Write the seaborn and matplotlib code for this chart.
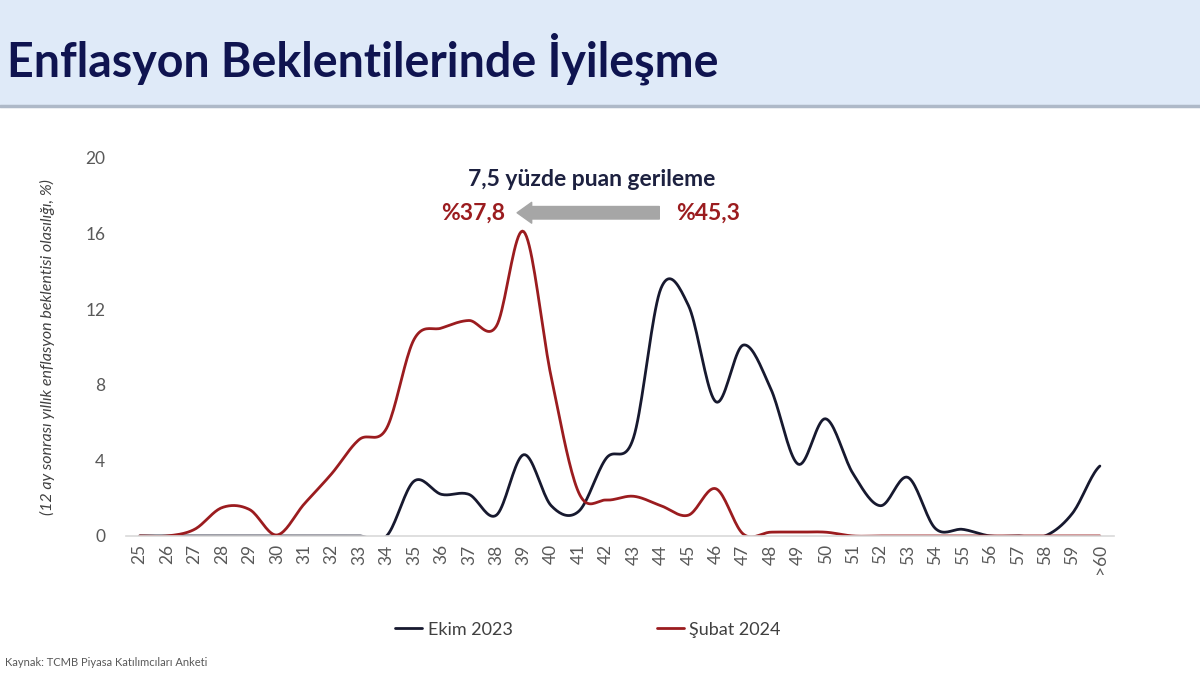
#!/usr/bin/env python3
import numpy as np
import pandas as pd
import matplotlib
matplotlib.use("Agg")
import matplotlib.pyplot as plt
from matplotlib.lines import Line2D
from matplotlib.patches import Rectangle
import seaborn as sns

# categories on the x axis (12 month ahead annual inflation expectation, %)
categories = [str(v) for v in range(25, 60)] + [">60"]

# probability (%)
ekim_2023 = [0, 0, 0, 0, 0, 0, 0, 0, 0, 0,
             2.9, 2.2, 2.2, 1.1, 4.3, 1.6, 1.3, 4.1, 5.2, 13.1,
             12.2, 7.1, 10.1, 7.8, 3.8, 6.2, 3.3, 1.6, 3.1, 0.4,
             0.35, 0, 0, 0, 1.2, 3.7]
subat_2024 = [0, 0, 0.35, 1.5, 1.4, 0.05, 1.7, 3.3, 5.1, 5.7,
              10.4, 11.0, 11.4, 11.1, 16.1, 8.4, 2.3, 1.9, 2.1, 1.6,
              1.1, 2.5, 0.1, 0.2, 0.2, 0.2, 0, 0, 0, 0,
              0, 0, 0, 0, 0, 0]

series_names = ["Ekim 2023", "Şubat 2024"]
colors = ["#17192f", "#9b1c1f"]


def smooth(y, steps=20):
    # catmull-rom path through the points, like excel's smoothed line
    y = np.asarray(y, dtype=float)
    p = np.concatenate([[y[0]], y, [y[-1]]])
    xs, ys = [], []
    for i in range(len(y) - 1):
        p0, p1, p2, p3 = p[i], p[i + 1], p[i + 2], p[i + 3]
        t = np.linspace(0, 1, steps, endpoint=False)
        v = 0.5 * (2 * p1 + (-p0 + p2) * t + (2 * p0 - 5 * p1 + 4 * p2 - p3) * t ** 2
                   + (-p0 + 3 * p1 - 3 * p2 + p3) * t ** 3)
        xs.extend(i + t)
        ys.extend(v)
    xs.append(len(y) - 1)
    ys.append(y[-1])
    return np.array(xs), np.array(ys)


def main():
    sns.set_theme(style="white")
    plt.rcParams["font.family"] = ["Lato", "DejaVu Sans"]

    fig = plt.figure(figsize=(12, 6.75), dpi=100)
    ax = fig.add_axes([0.105, 0.206, 0.823, 0.560])

    # header band
    fig.patches.append(Rectangle((0, 0.843), 1, 0.157, transform=fig.transFigure,
                                 facecolor="#dfeaf8", edgecolor="none", zorder=0))
    fig.lines.append(Line2D([0, 1], [0.843, 0.843], transform=fig.transFigure,
                            color="#aeb9c8", lw=2.5))
    fig.text(0.006, 0.913, "Enflasyon Beklentilerinde İyileşme", fontsize=33.5,
             fontweight="bold", color="#0f1450", va="center", ha="left")

    frames = []
    for name, vals in zip(series_names, [ekim_2023, subat_2024]):
        xs, ys = smooth(vals)
        frames.append(pd.DataFrame({"x": xs, "y": ys, "series": name}))
    df = pd.concat(frames, ignore_index=True)

    sns.lineplot(data=df, x="x", y="y", hue="series", palette=colors,
                 hue_order=series_names, sort=False, lw=2.0, ax=ax, legend=False)

    ax.set_xlim(-0.5, len(categories) - 0.5)
    ax.set_ylim(0, 20)
    ax.set_xticks(range(len(categories)))
    ax.set_xticklabels(categories, rotation=90)
    ax.set_yticks(range(0, 21, 4))
    ax.tick_params(axis="x", labelsize=12.5, labelcolor="#595959", length=0, pad=6)
    ax.tick_params(axis="y", labelsize=12.5, labelcolor="#595959", length=0, pad=15)
    ax.set_xlabel("")
    ax.set_ylabel("(12 ay sonrası yıllık enflasyon beklentisi olasılığı, %)",
                  fontsize=11.5, style="italic", color="#404040", labelpad=22)
    for s in ["top", "right", "left"]:
        ax.spines[s].set_visible(False)
    ax.spines["bottom"].set_color("#d9d9d9")
    ax.spines["bottom"].set_linewidth(1.2)

    # annotation of the mean shift
    ax.text(0.472, 0.942, "7,5 yüzde puan gerileme", transform=ax.transAxes,
            ha="center", va="center", fontsize=16.5, fontweight="bold", color="#1d2140")
    ax.text(0.351, 0.855, "%37,8", transform=ax.transAxes, ha="center", va="center",
            fontsize=16.5, fontweight="bold", color="#9b1c1f")
    ax.text(0.589, 0.855, "%45,3", transform=ax.transAxes, ha="center", va="center",
            fontsize=16.5, fontweight="bold", color="#9b1c1f")
    ax.annotate("", xy=(0.396, 0.855), xytext=(0.540, 0.855),
                xycoords="axes fraction", textcoords="axes fraction",
                arrowprops=dict(arrowstyle="simple,head_length=0.7,head_width=1.0,tail_width=0.6",
                                color="#a6a6a6", mutation_scale=15, shrinkA=0, shrinkB=0))

    handles = [Line2D([], [], color=c, lw=2) for c in colors]
    fig.legend(handles, series_names, loc="center", bbox_to_anchor=(0.49, 0.067),
               ncol=2, frameon=False, fontsize=13, handlelength=1.5,
               handletextpad=0.3, columnspacing=8, labelcolor="#404040")

    fig.text(0.004, 0.018, "Kaynak: TCMB Piyasa Katılımcıları Anketi", fontsize=8,
             color="#595959", ha="left", va="center")

    fig.savefig("out.png", dpi=100)


if __name__ == "__main__":
    main()
